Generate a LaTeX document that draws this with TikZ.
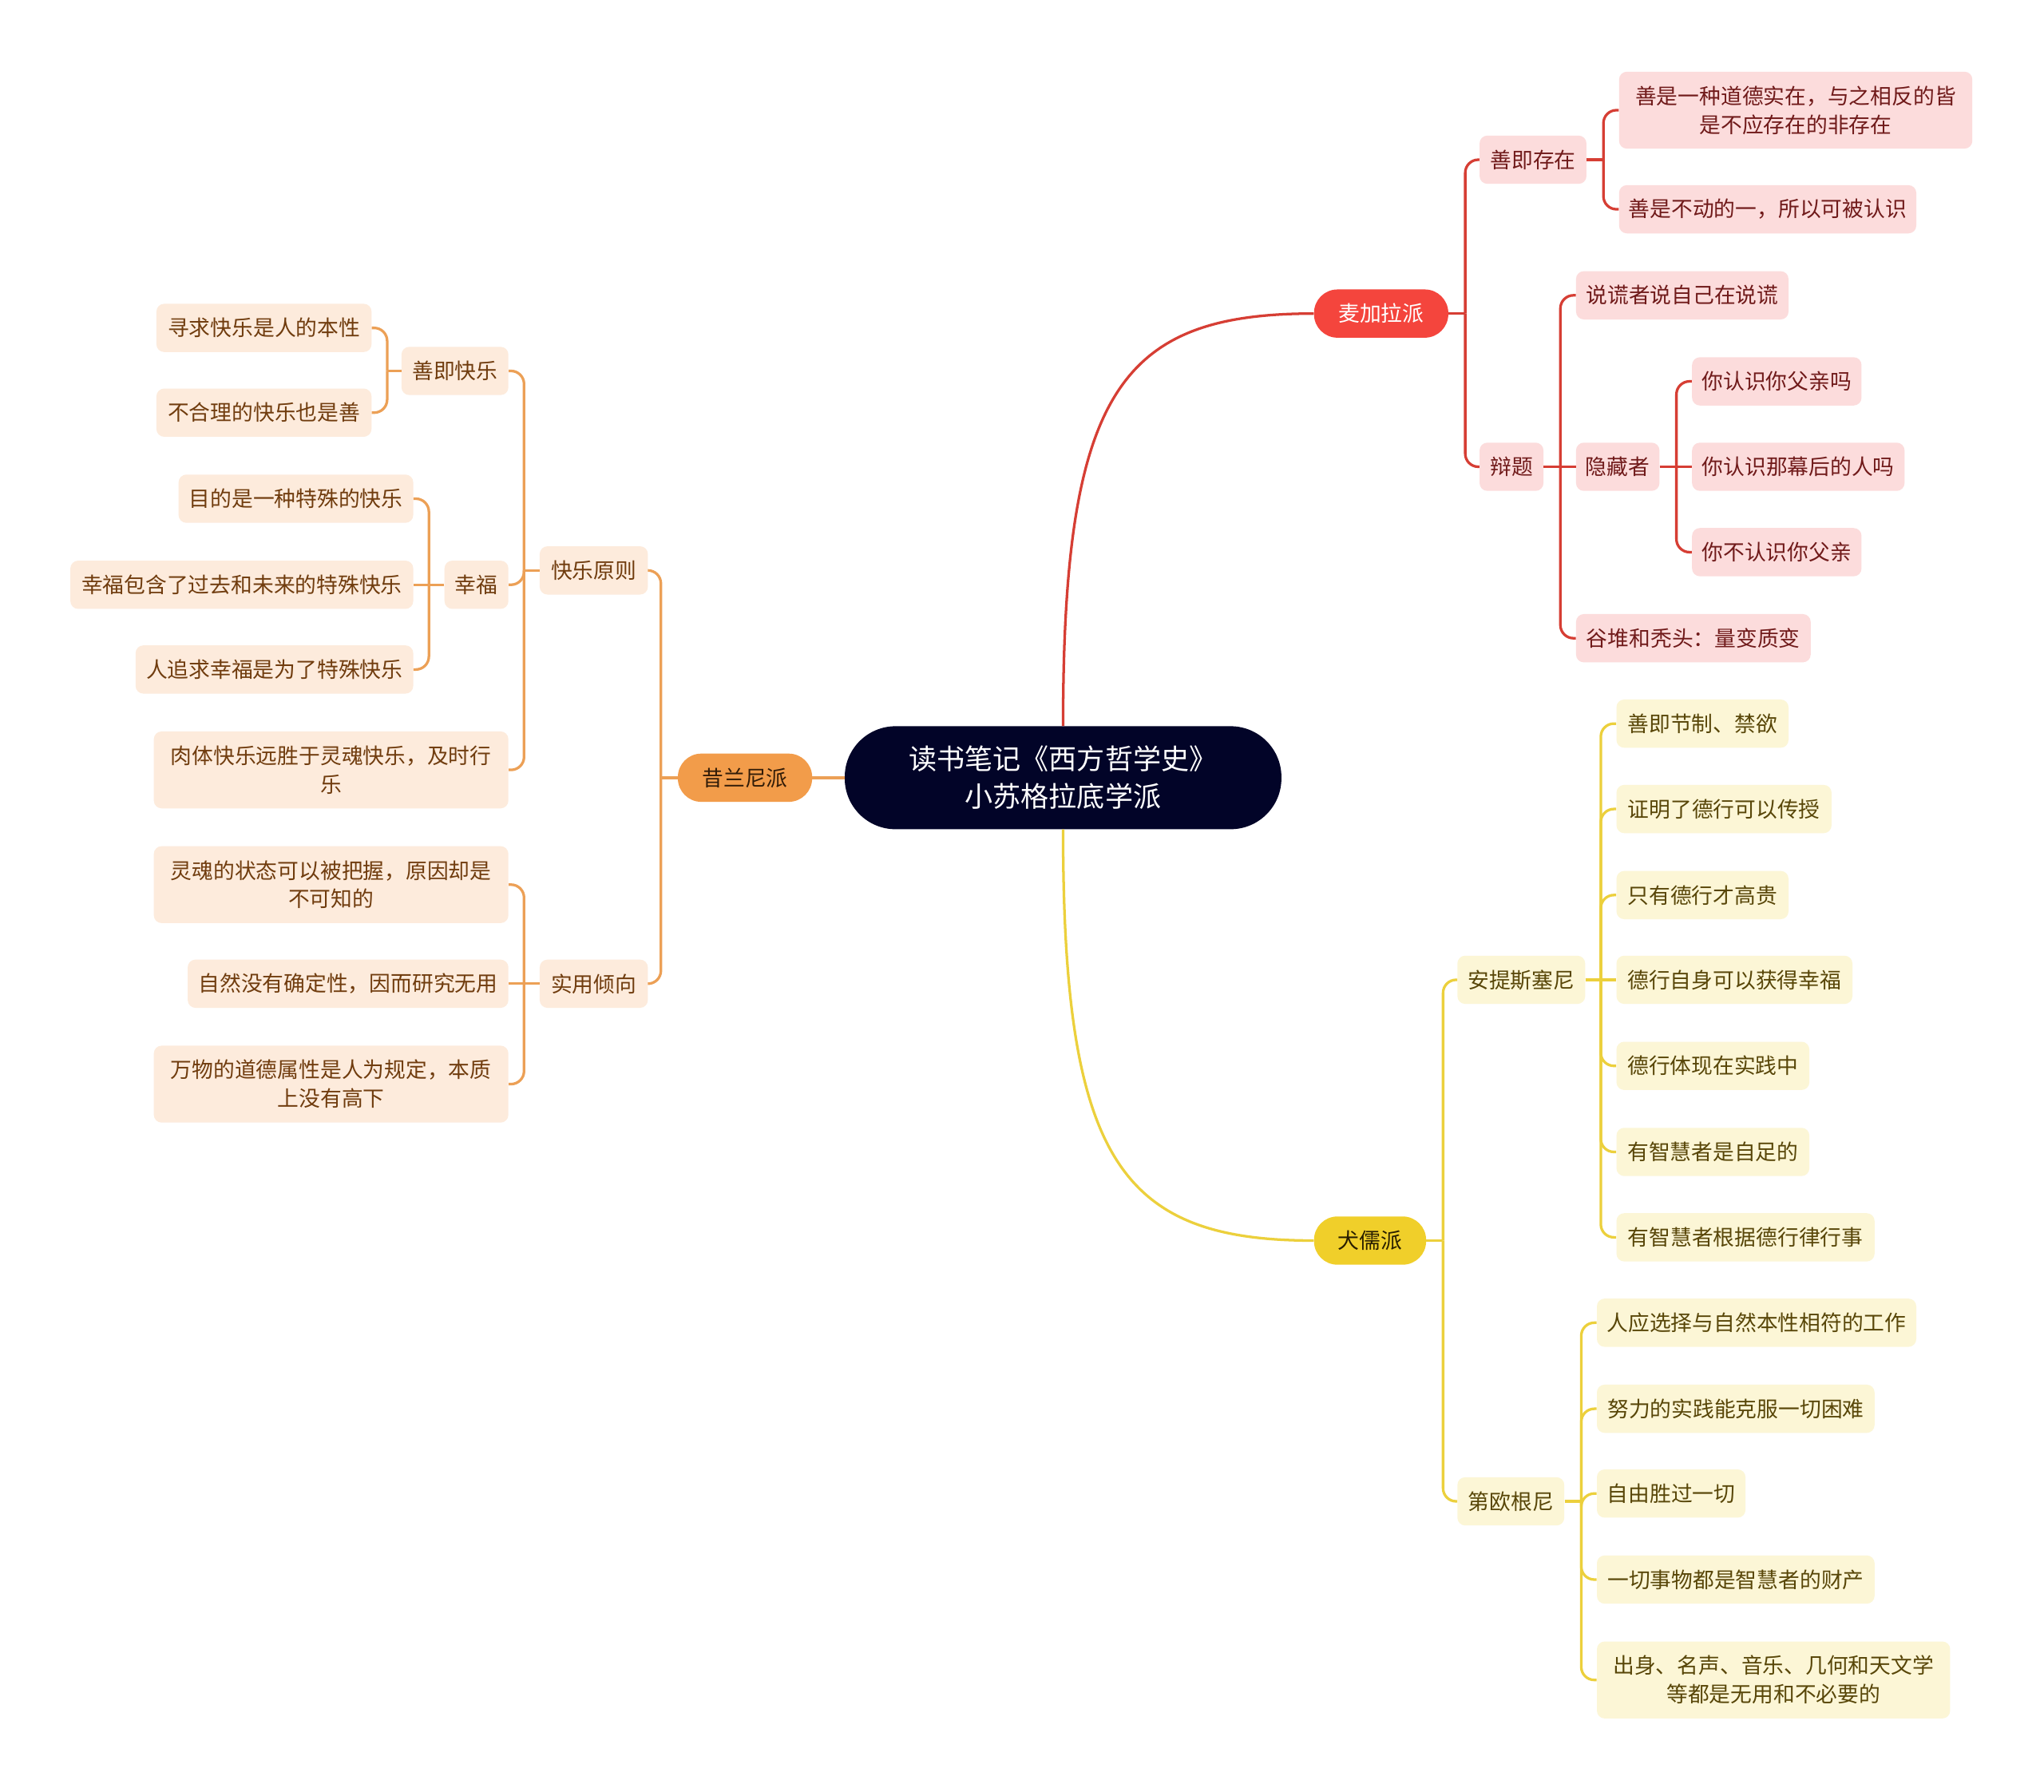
\documentclass[tikz,border=0pt]{standalone}
\usepackage{fontspec}
\setmainfont{Noto Sans CJK SC}
\definecolor{rootfill}{RGB}{2,4,40}
\definecolor{megfill}{RGB}{244,69,61}
\definecolor{redline}{RGB}{214,62,52}
\definecolor{pinkfill}{RGB}{252,220,220}
\definecolor{redtext}{RGB}{112,26,26}
\definecolor{cyrfill}{RGB}{242,156,74}
\definecolor{orgline}{RGB}{236,160,86}
\definecolor{orgfill}{RGB}{253,235,220}
\definecolor{orgtext}{RGB}{112,60,14}
\definecolor{cynfill}{RGB}{240,207,42}
\definecolor{yelline}{RGB}{236,208,60}
\definecolor{yelfill}{RGB}{252,246,214}
\definecolor{yeltext}{RGB}{88,70,8}
\tikzset{
  base/.style={inner sep=0pt, font=\fontsize{16.4}{22}\selectfont, rounded corners=6pt, minimum height=37pt, align=center},
  rbox/.style={base, fill=pinkfill, text=redtext},
  obox/.style={base, fill=orgfill, text=orgtext},
  ybox/.style={base, fill=yelfill, text=yeltext},
  lvone/.style={base, rounded corners=18pt},
  rline/.style={draw=redline, line width=2pt, rounded corners=10pt},
  oline/.style={draw=orgline, line width=2pt, rounded corners=10pt},
  yline/.style={draw=yelline, line width=2pt, rounded corners=10pt},
}
\begin{document}
\begin{tikzpicture}[x=1pt, y={(0pt,-1pt)}]
\useasboundingbox (0,0) rectangle (1568,1374);
\fill[white] (0,0) rectangle (1568,1374);

% root
\node[inner sep=0pt, fill=rootfill, text=white, rounded corners=39pt, minimum width=335pt, minimum height=79pt, align=center, font=\fontsize{21.5}{29}\selectfont] (root) at (815.5,596.5) {读书笔记《西方哲学史》\\小苏格拉底学派};

% level 1
\node[lvone, fill=megfill, text=white, minimum width=103pt] (meg) at (1059.5,240.5) {麦加拉派};
\node[lvone, fill=cyrfill, text={rgb,255:red,50;green,28;blue,8}, minimum width=103pt] (cyr) at (571.5,596.5) {昔兰尼派};
\node[lvone, fill=cynfill, text={rgb,255:red,40;green,30;blue,0}, minimum width=86pt] (cyn) at (1051,951.5) {犬儒派};

\draw[redline, line width=2pt] (root.north) .. controls +(0,-257) and +(-148,0) .. (meg.west);
\draw[yelline, line width=2pt] (root.south) .. controls +(0,254) and +(-148,0) .. (cyn.west);
\draw[orgline, line width=2pt] (root.west) -- (cyr.east);

% red branch
\node[rbox, minimum width=82pt] (r1) at (1176,122.5) {善即存在};
\node[rbox, minimum width=49pt] (r2) at (1159.5,358) {辩题};
\node[rbox, minimum width=271pt, minimum height=59pt] (r11) at (1377.5,84.5) {善是一种道德实在，与之相反的皆\\是不应存在的非存在};
\node[rbox, minimum width=228pt] (r12) at (1356,160.5) {善是不动的一，所以可被认识};
\node[rbox, minimum width=163pt] (r21) at (1290.5,226.5) {说谎者说自己在说谎};
\node[rbox, minimum width=64pt] (r22) at (1241,358) {隐藏者};
\node[rbox, minimum width=180pt] (r23) at (1299,489.5) {谷堆和秃头：量变质变};
\node[rbox, minimum width=130pt] (r221) at (1363,292.5) {你认识你父亲吗};
\node[rbox, minimum width=163pt] (r222) at (1379.5,358) {你认识那幕后的人吗};
\node[rbox, minimum width=130pt] (r223) at (1363,423.5) {你不认识你父亲};

\coordinate (sMeg) at (1124,0);
\draw[rline] (meg.east) -- (meg.east -| sMeg);
\foreach \c in {r1,r2} \draw[rline] (meg.east -| sMeg) |- (\c.west);
\coordinate (sR1) at (1230,0);
\draw[rline] (r1.east) -- (r1.east -| sR1);
\foreach \c in {r11,r12} \draw[rline] (r1.east -| sR1) |- (\c.west);
\coordinate (sR2) at (1197,0);
\draw[rline] (r2.east) -- (r2.east -| sR2);
\foreach \c in {r21,r23} \draw[rline] (r2.east -| sR2) |- (\c.west);
\draw[rline] (r2.east -| sR2) -- (r22.west);
\coordinate (sR22) at (1286,0);
\draw[rline] (r22.east) -- (r22.east -| sR22);
\foreach \c in {r221,r223} \draw[rline] (r22.east -| sR22) |- (\c.west);
\draw[rline] (r22.east -| sR22) -- (r222.west);

% orange branch
\node[obox, minimum width=83pt] (o1) at (455.5,437.5) {快乐原则};
\node[obox, minimum width=83pt] (o2) at (455.5,754.5) {实用倾向};
\node[obox, minimum width=82pt] (o11) at (349,284.5) {善即快乐};
\node[obox, minimum width=49pt] (o12) at (365.5,448.5) {幸福};
\node[obox, minimum width=272pt, minimum height=59pt] (o13) at (254,590.5) {肉体快乐远胜于灵魂快乐，及时行\\乐};
\node[obox, minimum width=165pt] (o111) at (202.5,251.5) {寻求快乐是人的本性};
\node[obox, minimum width=165pt] (o112) at (202.5,316.5) {不合理的快乐也是善};
\node[obox, minimum width=180pt] (o121) at (227,382.5) {目的是一种特殊的快乐};
\node[obox, minimum width=263pt] (o122) at (185.5,448.5) {幸福包含了过去和未来的特殊快乐};
\node[obox, minimum width=213pt] (o123) at (210.5,513.5) {人追求幸福是为了特殊快乐};
\node[obox, minimum width=272pt, minimum height=59pt] (o21) at (254,678.5) {灵魂的状态可以被把握，原因却是\\不可知的};
\node[obox, minimum width=246pt] (o22) at (267,754.5) {自然没有确定性，因而研究无用};
\node[obox, minimum width=272pt, minimum height=59pt] (o23) at (254,831.5) {万物的道德属性是人为规定，本质\\上没有高下};

\coordinate (sCyr) at (507,0);
\draw[oline] (cyr.west) -- (cyr.west -| sCyr);
\foreach \c in {o1,o2} \draw[oline] (cyr.west -| sCyr) |- (\c.east);
\coordinate (sO1) at (402,0);
\draw[oline] (o1.west) -- (o1.west -| sO1);
\foreach \c in {o11,o12,o13} \draw[oline] (o1.west -| sO1) |- (\c.east);
\coordinate (sO11) at (297,0);
\draw[oline] (o11.west) -- (o11.west -| sO11);
\foreach \c in {o111,o112} \draw[oline] (o11.west -| sO11) |- (\c.east);
\coordinate (sO12) at (329,0);
\draw[oline] (o12.west) -- (o12.west -| sO12);
\foreach \c in {o121,o123} \draw[oline] (o12.west -| sO12) |- (\c.east);
\draw[oline] (o12.west -| sO12) -- (o122.east);
\coordinate (sO2) at (402,0);
\draw[oline] (o2.west) -- (o2.west -| sO2);
\foreach \c in {o21,o23} \draw[oline] (o2.west -| sO2) |- (\c.east);
\draw[oline] (o2.west -| sO2) -- (o22.east);

% yellow branch
\node[ybox, minimum width=98pt] (y1) at (1167,751.5) {安提斯塞尼};
\node[ybox, minimum width=82pt] (y2) at (1159,1151.5) {第欧根尼};
\node[ybox, minimum width=132pt] (y11) at (1306,555) {善即节制、禁欲};
\node[ybox, minimum width=165pt] (y12) at (1322.5,620.5) {证明了德行可以传授};
\node[ybox, minimum width=132pt] (y13) at (1306,686.5) {只有德行才高贵};
\node[ybox, minimum width=181pt] (y14) at (1330.5,751.5) {德行自身可以获得幸福};
\node[ybox, minimum width=148pt] (y15) at (1314,817.5) {德行体现在实践中};
\node[ybox, minimum width=148pt] (y16) at (1314,883.5) {有智慧者是自足的};
\node[ybox, minimum width=198pt] (y17) at (1339,949) {有智慧者根据德行律行事};
\node[ybox, minimum width=245pt] (y21) at (1347.5,1014.5) {人应选择与自然本性相符的工作};
\node[ybox, minimum width=213pt] (y22) at (1331.5,1080.5) {努力的实践能克服一切困难};
\node[ybox, minimum width=114pt] (y23) at (1282,1145.5) {自由胜过一切};
\node[ybox, minimum width=213pt] (y24) at (1331.5,1211.5) {一切事物都是智慧者的财产};
\node[ybox, minimum width=271pt, minimum height=59pt] (y25) at (1360.5,1288.5) {出身、名声、音乐、几何和天文学\\等都是无用和不必要的};

\coordinate (sCyn) at (1107,0);
\draw[yline] (cyn.east) -- (cyn.east -| sCyn);
\foreach \c in {y1,y2} \draw[yline] (cyn.east -| sCyn) |- (\c.west);
\coordinate (sY1) at (1228,0);
\draw[yline] (y1.east) -- (y1.east -| sY1);
\foreach \c in {y11,y12,y13,y15,y16,y17} \draw[yline] (y1.east -| sY1) |- (\c.west);
\draw[yline] (y1.east -| sY1) -- (y14.west);
\coordinate (sY2) at (1213,0);
\draw[yline] (y2.east) -- (y2.east -| sY2);
\foreach \c in {y21,y22,y23,y24,y25} \draw[yline] (y2.east -| sY2) |- (\c.west);
\end{tikzpicture}
\end{document}
